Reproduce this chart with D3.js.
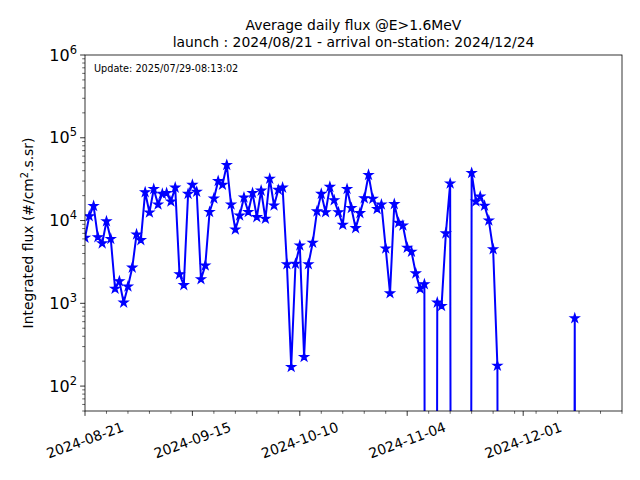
<!DOCTYPE html>
<html>
<head>
<meta charset="utf-8">
<script src="https://cdn.jsdelivr.net/npm/d3@7"></script>
<style>
  body { margin: 0; background: #fff; }
  text { font-family: "DejaVu Sans", sans-serif; fill: #000; }
</style>
</head>
<body>
<div id="chart"></div>
<script>
'use strict';

// daily flux, one value per day from the start date (0 = no data, clipped on log axis)
var startDate = '2024-08-21';
var endDate = '2024-12-24';
var fluxValues = [
  6200, 11300, 15000, 6300, 5300, 9800, 6000, 1500, 1850, 1020,
  1600, 2700, 6800, 5800, 22000, 12500, 24000, 15600, 21000, 21500,
  17000, 25000, 2250, 1660, 21000, 27000, 22300, 1950, 2870, 12700,
  18500, 30000, 27000, 47000, 15600, 7800, 11500, 19000, 12700, 21500,
  11000, 23000, 10500, 32000, 15200, 23500, 25000, 2960, 170, 3000,
  5000, 225, 2960, 5400, 12900, 21000, 12600, 25500, 17600, 12600,
  8900, 24000, 14200, 8100, 12300, 18600, 35600, 18300, 13800, 15600,
  4600, 1320, 15800, 9400, 8700, 4700, 4200, 2300, 1500, 1700,
  0, 0, 1020, 930, 7000, 28000, 0, 0, 0, 0,
  37600, 17000, 19500, 15100, 10000, 4500, 176, 0, 0, 0,
  0, 0, 0, 0, 0, 0, 0, 0, 0, 0,
  0, 0, 0, 0, 660, 0
];
var majorTickDates = ['2024-08-21', '2024-09-15', '2024-10-10', '2024-11-04', '2024-12-01'];
var yTickValues = [1e2, 1e3, 1e4, 1e5, 1e6];
var yDomain = [50, 1e6];

var titleLines = ['Average daily flux @E>1.6MeV', 'launch : 2024/08/21 - arrival on-station: 2024/12/24'];
var updateText = 'Update: 2025/07/29-08:13:02';

var width = 640, height = 480;
var margin = {top: 55, right: 18, bottom: 69, left: 85};
var plotW = width - margin.left - margin.right;
var plotH = height - margin.top - margin.bottom;

var parse = d3.utcParse('%Y-%m-%d');
var fmt = d3.utcFormat('%Y-%m-%d');
var t0 = parse(startDate);
var t1 = parse(endDate);

var data = fluxValues.map(function(v, i) {
  return {date: d3.utcDay.offset(t0, i), value: v};
});

var x = d3.scaleUtc()
  .domain([t0, t1])
  .range([0, plotW]);

var y = d3.scaleLog()
  .domain(yDomain)
  .range([plotH, 0]);

// zero values are pushed far below the axis, like matplotlib's clipping
var yVal = function(v) { return y(v > 0 ? v : 1e-30); };

var svg = d3.select('#chart').append('svg')
  .attr('width', width)
  .attr('height', height);

svg.append('defs').append('clipPath').attr('id', 'clip')
  .append('rect').attr('width', plotW).attr('height', plotH);

var g = svg.append('g')
  .attr('transform', 'translate(' + margin.left + ',' + margin.top + ')');

// line and star markers
var plot = g.append('g').attr('clip-path', 'url(#clip)');

var line = d3.line()
  .x(function(d) { return x(d.date); })
  .y(function(d) { return yVal(d.value); });

plot.append('path')
  .datum(data)
  .attr('d', line)
  .style('fill', 'none')
  .style('stroke', '#0000ff')
  .style('stroke-width', 2)
  .style('stroke-linejoin', 'round');

plot.selectAll('.star').data(data.filter(function(d) { return d.value > 0; }))
  .enter().append('path')
    .attr('class', 'star')
    .attr('d', d3.symbol().type(d3.symbolStar).size(22))
    .attr('transform', function(d) {
      return 'translate(' + x(d.date) + ',' + yVal(d.value) + ')';
    })
    .style('fill', '#0000ff')
    .style('stroke', '#0000ff')
    .style('stroke-width', 1.3);

// x axis: major ticks with rotated labels, minor ticks every 5 days
var majorDates = majorTickDates.map(parse);
var minorDates = d3.utcDays(t0, d3.utcDay.offset(t1, 1), 5).filter(function(d) {
  return !majorDates.some(function(m) { return +m === +d; });
});

var xAxis = g.append('g')
  .attr('transform', 'translate(0,' + plotH + ')');

xAxis.selectAll('.minor').data(minorDates)
  .enter().append('line')
    .attr('x1', function(d) { return x(d); })
    .attr('x2', function(d) { return x(d); })
    .attr('y1', 0).attr('y2', 2.8)
    .style('stroke', '#000').style('stroke-width', 0.6);

xAxis.selectAll('.major').data(majorDates)
  .enter().append('line')
    .attr('x1', function(d) { return x(d); })
    .attr('x2', function(d) { return x(d); })
    .attr('y1', 0).attr('y2', 4.9)
    .style('stroke', '#000').style('stroke-width', 0.8);

xAxis.selectAll('.xlabel').data(majorDates)
  .enter().append('text')
    .attr('transform', function(d) { return 'translate(' + x(d) + ',29) rotate(-20)'; })
    .attr('text-anchor', 'middle')
    .attr('dominant-baseline', 'central')
    .style('font-size', '13.9px')
    .text(function(d) { return fmt(d); });

// y axis: decades with 10^n labels, minor ticks 2..9
var yAxis = g.append('g');
var minorY = [];
d3.range(1, 6).forEach(function(p) {
  d3.range(2, 10).forEach(function(k) {
    var v = k * Math.pow(10, p);
    if (v >= yDomain[0] && v <= yDomain[1]) minorY.push(v);
  });
});

yAxis.selectAll('.yminor').data(minorY)
  .enter().append('line')
    .attr('x1', -2.8).attr('x2', 0)
    .attr('y1', function(d) { return y(d); })
    .attr('y2', function(d) { return y(d); })
    .style('stroke', '#000').style('stroke-width', 0.6);

yAxis.selectAll('.ymajor').data(yTickValues)
  .enter().append('line')
    .attr('x1', -4.9).attr('x2', 0)
    .attr('y1', function(d) { return y(d); })
    .attr('y2', function(d) { return y(d); })
    .style('stroke', '#000').style('stroke-width', 0.8);

var ylab = yAxis.selectAll('.ylabel').data(yTickValues)
  .enter().append('text')
    .attr('x', -8)
    .attr('y', function(d) { return y(d) + 5.5; })
    .attr('text-anchor', 'end')
    .style('font-size', '16px');
ylab.append('tspan').text('10');
ylab.append('tspan')
  .attr('dy', -7)
  .style('font-size', '11.5px')
  .text(function(d) { return Math.round(Math.log10(d)); });

// frame
g.append('rect')
  .attr('width', plotW).attr('height', plotH)
  .style('fill', 'none').style('stroke', '#000').style('stroke-width', 0.8);

// labels and titles
var yTitle = svg.append('text')
  .attr('transform', 'translate(33,' + (margin.top + plotH / 2) + ') rotate(-90)')
  .attr('text-anchor', 'middle')
  .style('font-size', '13.9px');
yTitle.append('tspan').text('Integrated flux (#/cm');
yTitle.append('tspan').attr('dy', -5).style('font-size', '9.7px').text('2');
yTitle.append('tspan').attr('dy', 5).text('.s.sr)');

svg.selectAll('.title').data(titleLines)
  .enter().append('text')
    .attr('x', margin.left + plotW / 2)
    .attr('y', function(d, i) { return 30 + i * 17; })
    .attr('text-anchor', 'middle')
    .style('font-size', '13.9px')
    .text(function(d) { return d; });

g.append('text')
  .attr('x', 9).attr('y', 17)
  .style('font-size', '9.7px')
  .text(updateText);
</script>
</body>
</html>
